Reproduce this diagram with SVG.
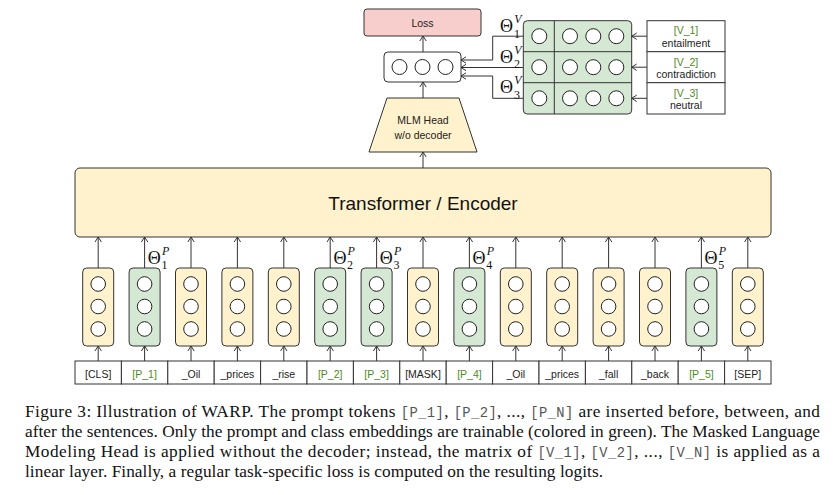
<svg xmlns="http://www.w3.org/2000/svg" width="838" height="495" viewBox="0 0 838 495">
<style>
.y{fill:#fff2cc;stroke:#333;stroke-width:1}
.g{fill:#d5e8d4;stroke:#333;stroke-width:1}
.w{fill:#fff;stroke:#333;stroke-width:1}
.c{fill:#fff;stroke:#222;stroke-width:1}
.ln{fill:none;stroke:#333;stroke-width:1}
.lbl{font-family:"Liberation Sans",Arial,sans-serif;font-size:10.5px;text-anchor:middle;fill:#222}
.gt{fill:#4f8a22}
.th{font-family:"Liberation Serif","Times New Roman",serif;font-size:18px;fill:#111}
.sm{font-family:"Liberation Serif","Times New Roman",serif;font-size:12px;fill:#111}
.it{font-style:italic}
.cap{font-family:"Liberation Serif","Times New Roman",serif;font-size:17.3px;fill:#111}
.mono{font-family:"Liberation Mono","Courier New",monospace;font-size:13.8px;fill:#555}
</style>
<defs>
<marker id="a" markerUnits="userSpaceOnUse" markerWidth="6" markerHeight="8" viewBox="0 0 6 8" refX="5.5" refY="4" orient="auto"><path d="M0.5,0.8 L5.5,4 L0.5,7.2" fill="none" stroke="#333" stroke-width="1"/></marker>
<g id="col3"><circle class="c" cx="0" cy="284" r="7.3"/><circle class="c" cx="0" cy="306.5" r="7.3"/><circle class="c" cx="0" cy="329" r="7.3"/></g>
</defs>

<g id="loss"><rect x="364" y="9" width="117" height="27" rx="3" fill="#f8cecc" stroke="#333"/><text class="lbl" x="422.5" y="26.5">Loss</text></g>

<g id="logits"><rect class="w" x="384" y="52" width="77" height="30" rx="4"/><circle class="c" cx="399.5" cy="67" r="7.5"/><circle class="c" cx="422.5" cy="67" r="7.5"/><circle class="c" cx="445.5" cy="67" r="7.5"/></g>

<g id="mlm"><polygon class="y" points="387,98 459,98 477,152 369,152"/><text class="lbl" x="423" y="124">MLM Head</text><text class="lbl" x="423" y="139">w/o decoder</text></g>

<g id="matrix">
<rect class="g" x="523.3" y="20.7" width="108.4" height="93.3" rx="4"/>
<line class="ln" x1="523.3" y1="51.7" x2="631.7" y2="51.7"/>
<line class="ln" x1="523.3" y1="82.7" x2="631.7" y2="82.7"/>
<line class="ln" x1="554.3" y1="20.7" x2="554.3" y2="114"/>
<g>
<circle class="c" cx="539.3" cy="36.2" r="7.5"/><circle class="c" cx="570" cy="36.2" r="7.5"/><circle class="c" cx="593.3" cy="36.2" r="7.5"/><circle class="c" cx="616.3" cy="36.2" r="7.5"/>
<circle class="c" cx="539.3" cy="67.2" r="7.5"/><circle class="c" cx="570" cy="67.2" r="7.5"/><circle class="c" cx="593.3" cy="67.2" r="7.5"/><circle class="c" cx="616.3" cy="67.2" r="7.5"/>
<circle class="c" cx="539.3" cy="98.3" r="7.5"/><circle class="c" cx="570" cy="98.3" r="7.5"/><circle class="c" cx="593.3" cy="98.3" r="7.5"/><circle class="c" cx="616.3" cy="98.3" r="7.5"/>
</g>
</g>

<g id="v1"><rect class="w" x="647" y="20.7" width="78" height="31"/><text class="lbl gt" x="686" y="34">[V_1]</text><text class="lbl" x="686" y="46.5">entailment</text></g>
<g id="v2"><rect class="w" x="647" y="51.7" width="78" height="31"/><text class="lbl gt" x="686" y="65.5">[V_2]</text><text class="lbl" x="686" y="77.5">contradiction</text></g>
<g id="v3"><rect class="w" x="647" y="82.7" width="78" height="31.3"/><text class="lbl gt" x="686" y="96.5">[V_3]</text><text class="lbl" x="686" y="108.5">neutral</text></g>

<g id="transformer"><rect class="y" x="75" y="168" width="696" height="69" rx="5"/><text x="423" y="210" text-anchor="middle" font-family="'Liberation Sans',Arial,sans-serif" font-size="19" fill="#111">Transformer / Encoder</text></g>

<g id="embeddings">
<g id="e0"><rect class="y" x="82.7" y="268" width="31" height="78" rx="4"/><use href="#col3" x="98.2"/></g>
<g id="e1"><rect class="g" x="129.1" y="268" width="31" height="78" rx="4"/><use href="#col3" x="144.6"/></g>
<g id="e2"><rect class="y" x="175.5" y="268" width="31" height="78" rx="4"/><use href="#col3" x="191"/></g>
<g id="e3"><rect class="y" x="221.9" y="268" width="31" height="78" rx="4"/><use href="#col3" x="237.4"/></g>
<g id="e4"><rect class="y" x="268.3" y="268" width="31" height="78" rx="4"/><use href="#col3" x="283.8"/></g>
<g id="e5"><rect class="g" x="314.7" y="268" width="31" height="78" rx="4"/><use href="#col3" x="330.2"/></g>
<g id="e6"><rect class="g" x="361.1" y="268" width="31" height="78" rx="4"/><use href="#col3" x="376.6"/></g>
<g id="e7"><rect class="y" x="407.5" y="268" width="31" height="78" rx="4"/><use href="#col3" x="423"/></g>
<g id="e8"><rect class="g" x="453.9" y="268" width="31" height="78" rx="4"/><use href="#col3" x="469.4"/></g>
<g id="e9"><rect class="y" x="500.3" y="268" width="31" height="78" rx="4"/><use href="#col3" x="515.8"/></g>
<g id="e10"><rect class="y" x="546.7" y="268" width="31" height="78" rx="4"/><use href="#col3" x="562.2"/></g>
<g id="e11"><rect class="y" x="593.1" y="268" width="31" height="78" rx="4"/><use href="#col3" x="608.6"/></g>
<g id="e12"><rect class="y" x="639.5" y="268" width="31" height="78" rx="4"/><use href="#col3" x="655"/></g>
<g id="e13"><rect class="g" x="685.9" y="268" width="31" height="78" rx="4"/><use href="#col3" x="701.4"/></g>
<g id="e14"><rect class="y" x="732.3" y="268" width="31" height="78" rx="4"/><use href="#col3" x="747.8"/></g>
</g>

<g id="tokens">
<g id="t0"><rect class="w" x="75" y="361" width="46.4" height="23"/><text class="lbl" x="98.2" y="377.5">[CLS]</text></g>
<g id="t1"><rect class="w" x="121.4" y="361" width="46.4" height="23"/><text class="lbl gt" x="144.6" y="377.5">[P_1]</text></g>
<g id="t2"><rect class="w" x="167.8" y="361" width="46.4" height="23"/><text class="lbl" x="191" y="377.5">_Oil</text></g>
<g id="t3"><rect class="w" x="214.2" y="361" width="46.4" height="23"/><text class="lbl" x="237.4" y="377.5">_prices</text></g>
<g id="t4"><rect class="w" x="260.6" y="361" width="46.4" height="23"/><text class="lbl" x="283.8" y="377.5">_rise</text></g>
<g id="t5"><rect class="w" x="307" y="361" width="46.4" height="23"/><text class="lbl gt" x="330.2" y="377.5">[P_2]</text></g>
<g id="t6"><rect class="w" x="353.4" y="361" width="46.4" height="23"/><text class="lbl gt" x="376.6" y="377.5">[P_3]</text></g>
<g id="t7"><rect class="w" x="399.8" y="361" width="46.4" height="23"/><text class="lbl" x="423" y="377.5">[MASK]</text></g>
<g id="t8"><rect class="w" x="446.2" y="361" width="46.4" height="23"/><text class="lbl gt" x="469.4" y="377.5">[P_4]</text></g>
<g id="t9"><rect class="w" x="492.6" y="361" width="46.4" height="23"/><text class="lbl" x="515.8" y="377.5">_Oil</text></g>
<g id="t10"><rect class="w" x="539" y="361" width="46.4" height="23"/><text class="lbl" x="562.2" y="377.5">_prices</text></g>
<g id="t11"><rect class="w" x="585.4" y="361" width="46.4" height="23"/><text class="lbl" x="608.6" y="377.5">_fall</text></g>
<g id="t12"><rect class="w" x="631.8" y="361" width="46.4" height="23"/><text class="lbl" x="655" y="377.5">_back</text></g>
<g id="t13"><rect class="w" x="678.2" y="361" width="46.4" height="23"/><text class="lbl gt" x="701.4" y="377.5">[P_5]</text></g>
<g id="t14"><rect class="w" x="724.6" y="361" width="46.4" height="23"/><text class="lbl" x="747.8" y="377.5">[SEP]</text></g>
</g>

<g id="connectors" class="ln" marker-end="url(#a)">
<path d="M98.2 361V346"/><path d="M144.6 361V346"/><path d="M191 361V346"/><path d="M237.4 361V346"/><path d="M283.8 361V346"/><path d="M330.2 361V346"/><path d="M376.6 361V346"/><path d="M423 361V346"/><path d="M469.4 361V346"/><path d="M515.8 361V346"/><path d="M562.2 361V346"/><path d="M608.6 361V346"/><path d="M655 361V346"/><path d="M701.4 361V346"/><path d="M747.8 361V346"/>
<path d="M98.2 268V237"/><path d="M144.6 268V237"/><path d="M191 268V237"/><path d="M237.4 268V237"/><path d="M283.8 268V237"/><path d="M330.2 268V237"/><path d="M376.6 268V237"/><path d="M423 268V237"/><path d="M469.4 268V237"/><path d="M515.8 268V237"/><path d="M562.2 268V237"/><path d="M608.6 268V237"/><path d="M655 268V237"/><path d="M701.4 268V237"/><path d="M747.8 268V237"/>
<path d="M423 168V152"/><path d="M423 98V82"/><path d="M423 52V36"/>
<path d="M523.3 36.2H492.7V60H461"/><path d="M523.3 67.5H461"/><path d="M523.3 98.3H492.7V76H461"/>
<path d="M647 36.2H631.7"/><path d="M647 67.2H631.7"/><path d="M647 98.3H631.7"/>
</g>

<g id="theta-labels">
<text class="th" x="147.8" y="263.5">Θ</text><text class="sm it" x="162" y="254.5">P</text><text class="sm" x="161.5" y="268.5">1</text>
<text class="th" x="333.4" y="263.5">Θ</text><text class="sm it" x="347.6" y="254.5">P</text><text class="sm" x="347.1" y="268.5">2</text>
<text class="th" x="379.8" y="263.5">Θ</text><text class="sm it" x="394" y="254.5">P</text><text class="sm" x="393.5" y="268.5">3</text>
<text class="th" x="472.6" y="263.5">Θ</text><text class="sm it" x="486.8" y="254.5">P</text><text class="sm" x="486.3" y="268.5">4</text>
<text class="th" x="704.6" y="263.5">Θ</text><text class="sm it" x="718.8" y="254.5">P</text><text class="sm" x="718.3" y="268.5">5</text>
<text class="th" x="500" y="32">Θ</text><text class="sm it" x="514.2" y="23">V</text><text class="sm" x="514" y="37.5">1</text>
<text class="th" x="500" y="62.5">Θ</text><text class="sm it" x="514.2" y="53.5">V</text><text class="sm" x="514" y="68">2</text>
<text class="th" x="500" y="93">Θ</text><text class="sm it" x="514.2" y="84">V</text><text class="sm" x="514" y="98.5">3</text>
</g>

<g id="caption" class="cap">
<text x="25" y="416.5" textLength="795" lengthAdjust="spacing">Figure 3: Illustration of WARP. The prompt tokens <tspan class="mono">[P_1]</tspan>, <tspan class="mono">[P_2]</tspan>, ..., <tspan class="mono">[P_N]</tspan> are inserted before, between, and</text>
<text x="25" y="436.5" textLength="795" lengthAdjust="spacing">after the sentences. Only the prompt and class embeddings are trainable (colored in green). The Masked Language</text>
<text x="25" y="456.5" textLength="795" lengthAdjust="spacing">Modeling Head is applied without the decoder; instead, the matrix of <tspan class="mono">[V_1]</tspan>, <tspan class="mono">[V_2]</tspan>, ..., <tspan class="mono">[V_N]</tspan> is applied as a</text>
<text x="25" y="476.5" textLength="578" lengthAdjust="spacing">linear layer. Finally, a regular task-specific loss is computed on the resulting logits.</text>
</g>
</svg>
